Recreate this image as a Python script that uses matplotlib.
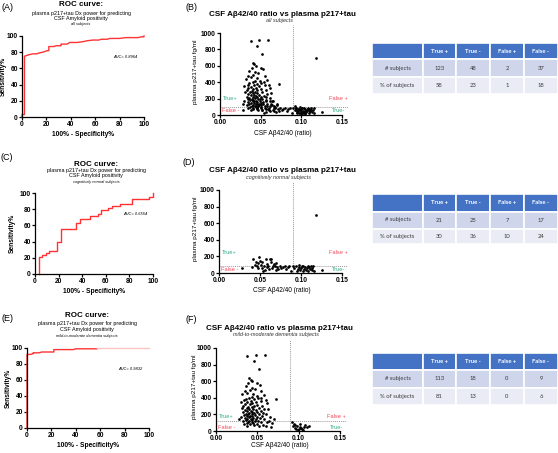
import matplotlib
matplotlib.use('Agg')
import matplotlib.pyplot as plt
from matplotlib.patches import Rectangle

plt.rcParams['font.family'] = ['Liberation Sans', 'DejaVu Sans']

# ---------------- data ----------------
roc_ticks = [0, 20, 40, 60, 80, 100]

A_fpr = [0, 0, 2, 2, 4, 6, 9, 12, 14, 17, 19, 21, 22, 22, 26, 28, 32, 32, 37, 38, 39, 45, 50, 53, 58, 63, 65, 70, 72, 80, 85, 95, 98, 100, 100]
A_tpr = [0, 3, 3, 75, 76, 77, 78, 78, 79, 80, 81, 82, 82, 87, 87, 88, 88, 90, 90, 91, 92, 92, 93, 94, 95, 95, 96, 96, 97, 97, 98, 98, 99, 99, 100]
A_auc = "AUC= 0.8964"

C_fpr = [3, 3, 6, 6, 9, 9, 12, 12, 19, 19, 22, 22, 35, 35, 38, 38, 47, 47, 53, 53, 56, 56, 62, 62, 65, 65, 72, 72, 82, 82, 97, 97, 100, 100]
C_tpr = [0, 21, 21, 23, 23, 26, 26, 29, 29, 40, 40, 55, 55, 63, 63, 68, 68, 71, 71, 74, 74, 79, 79, 81, 81, 84, 84, 87, 87, 92, 92, 95, 95, 100]
C_auc = "AUC= 0.6554"

E_fpr = [0, 0, 3, 5, 5, 10, 12, 22, 22, 38, 40, 57, 57, 100]
E_tpr = [0, 92, 92, 93, 94, 94, 95, 95, 98, 98, 99, 99, 100, 100]
E_fade_from = 57
E_auc = "AUC= 0.9832"

roc_titles = ["ROC curve:", "plasma p217+tau Dx power for predicting", "CSF Amyloid positivity"]
groups = ["all subjects", "cognitively normal subjects", "mild-to-moderate dementia subjects"]
panel_letters = ["(A)", "(B)", "(C)", "(D)", "(E)", "(F)"]

# scatter: cognitively normal (D)
D_x = [0.028, 0.040, 0.042, 0.044, 0.046, 0.048, 0.049, 0.050, 0.051, 0.052, 0.053, 0.055, 0.056, 0.057,
       0.058, 0.059, 0.060, 0.061, 0.062, 0.063, 0.064, 0.065, 0.066, 0.067, 0.068, 0.069, 0.070, 0.071,
       0.072, 0.074, 0.076, 0.078, 0.080, 0.082, 0.084, 0.086, 0.088, 0.054, 0.047, 0.045,
       0.090, 0.092, 0.094, 0.096, 0.097, 0.098, 0.099, 0.100, 0.101, 0.102, 0.103, 0.104, 0.105, 0.106,
       0.107, 0.108, 0.109, 0.110, 0.111, 0.112, 0.113, 0.114, 0.115, 0.116, 0.126, 0.095, 0.118]
D_y = [60, 70, 170, 100, 80, 120, 190, 150, 100, 60, 130, 80, 40, 170,
       110, 70, 90, 50, 170, 130, 170, 60, 90, 110, 80, 40, 120, 70,
       50, 90, 60, 70, 80, 50, 70, 90, 20, 30, 60, 130,
       90, 60, 80, 50, 70, 100, 40, 60, 80, 30, 90, 50, 70, 40,
       60, 80, 30, 70, 50, 90, 40, 60, 80, 30, 40, 30, 700]

# scatter: mild-to-moderate dementia (F)
F_x = [0.038, 0.048, 0.059, 0.046, 0.052, 0.040, 0.042, 0.044, 0.039, 0.050, 0.053, 0.036, 0.043, 0.047,
       0.041, 0.055, 0.038, 0.045, 0.032, 0.058, 0.049, 0.043, 0.040, 0.051, 0.036, 0.046, 0.072, 0.034,
       0.042, 0.055, 0.030, 0.048, 0.038, 0.044, 0.062, 0.035, 0.041, 0.050, 0.033, 0.046, 0.056, 0.039,
       0.043, 0.037, 0.052, 0.031, 0.045, 0.040, 0.058, 0.035, 0.048, 0.042, 0.038, 0.054, 0.044, 0.033,
       0.050, 0.040, 0.046, 0.036, 0.061, 0.043, 0.039, 0.052, 0.034, 0.047, 0.041, 0.056, 0.037, 0.044,
       0.030, 0.049, 0.040, 0.065, 0.035, 0.045, 0.053, 0.038, 0.042, 0.028, 0.048, 0.058, 0.070, 0.036,
       0.044, 0.040, 0.051, 0.033, 0.047, 0.039, 0.043, 0.055, 0.062, 0.037, 0.045, 0.050, 0.041, 0.034,
       0.057, 0.046, 0.060, 0.038, 0.052, 0.066, 0.064, 0.068, 0.057, 0.063, 0.060, 0.054, 0.035,
       0.092, 0.094, 0.096, 0.098, 0.095, 0.100, 0.102, 0.104, 0.106, 0.108, 0.105, 0.112, 0.097, 0.101,
       0.093, 0.099, 0.103, 0.110]
F_y = [905, 920, 910, 845, 745, 640, 620, 600, 575, 575, 560, 540, 520, 510,
       490, 480, 460, 450, 440, 430, 420, 410, 400, 395, 390, 380, 380, 370,
       365, 360, 355, 350, 345, 335, 335, 325, 320, 315, 305, 300, 300, 295,
       285, 280, 280, 275, 270, 265, 260, 255, 250, 245, 240, 235, 230, 225,
       225, 220, 215, 210, 210, 205, 200, 200, 195, 190, 185, 185, 180, 175,
       170, 170, 165, 165, 160, 155, 155, 150, 145, 140, 140, 140, 140, 135,
       130, 125, 125, 120, 115, 112, 110, 108, 105, 100, 95, 90, 85, 80,
       75, 70, 65, 60, 55, 50, 120, 100, 220, 270, 370, 400, 480,
       105, 90, 75, 60, 40, 30, 50, 20, 45, 70, 10, 60, 25, 90,
       55, 15, 35, 45]

# all subjects (B) = both groups
B_x = D_x + F_x
B_y = D_y + F_y

ratio_cut = 0.09
p217_cut = {"B": 100, "D": 85, "F": 115}
scatter_xticks = [0.00, 0.05, 0.10, 0.15]
scatter_yticks = [0, 200, 400, 600, 800, 1000]

table_cols = ["", "True +", "True -", "False +", "False -"]
table_rows = ["# subjects", "% of subjects"]
B_table = [[123, 48, 2, 37], [58, 23, 1, 18]]
D_table = [[21, 25, 7, 17], [30, 36, 10, 24]]
F_table = [[113, 18, 0, 9], [81, 13, 0, 6]]

# ---------------- drawing ----------------
W, H = 558, 453
fig = plt.figure(figsize=(W / 100, H / 100), dpi=100)

RED = '#FF3333'
GREEN = '#2EAA8A'
LRED = '#F0475A'


def px_axes(x0, y0, x1, y1):
    return fig.add_axes([x0 / W, 1 - y1 / H, (x1 - x0) / W, (y1 - y0) / H])


def ftext(x, y, s, **kw):
    kw.setdefault('ha', 'center')
    kw.setdefault('va', 'center')
    fig.text(x / W, 1 - y / H, s, **kw)


def style_axes(ax):
    for sp in ['top', 'right']:
        ax.spines[sp].set_visible(False)
    for sp in ['left', 'bottom']:
        ax.spines[sp].set_linewidth(0.9)
    ax.tick_params(length=2, width=0.9, labelsize=4.8, pad=1)
    for lab in ax.get_xticklabels() + ax.get_yticklabels():
        lab.set_fontweight('bold')


def roc_panel(box, fpr, tpr, auc, group, title_y, cx, ylab_x, xlab_y, fade_from=None):
    ax = px_axes(*box)
    if fade_from is None:
        ax.plot(fpr, tpr, color=RED, lw=1.0, clip_on=False)
    else:
        k = fpr.index(fade_from)
        ax.plot(fpr[:k + 1], tpr[:k + 1], color=RED, lw=1.0, clip_on=False)
        ax.plot(fpr[k:], tpr[k:], color='#FFC4C4', lw=1.0, clip_on=False)
    ax.set_xlim(0, 100)
    ax.set_ylim(0, 100)
    ax.set_xticks(roc_ticks)
    ax.set_yticks(roc_ticks)
    style_axes(ax)
    ax.set_xlabel("100% - Specificity%", fontsize=4.8, fontweight='bold')
    ax.set_ylabel("Sensitivity%", fontsize=4.8, fontweight='bold')
    ax.xaxis.set_label_coords(0.5, xlab_y)
    ax.yaxis.set_label_coords(ylab_x, 0.5)
    ax.xaxis.label.set_va('center')
    ax.yaxis.label.set_va('center')
    ax.text(75, 74, auc, fontsize=2.9, style='italic', ha='left', va='center')
    ftext(cx, title_y[0], roc_titles[0], fontsize=5.8, fontweight='bold')
    ftext(cx, title_y[1], roc_titles[1], fontsize=3.9)
    ftext(cx, title_y[2], roc_titles[2], fontsize=3.9)
    ftext(cx, title_y[3], group, fontsize=2.8, style='italic')
    return ax


def scatter_panel(box, xs, ys, cut, group, title_y, cx, ylab_x, xlab_y, lab_y):
    ax = px_axes(*box)
    ax.scatter(xs, ys, s=3.8, c='black', linewidths=0, clip_on=False, zorder=3)
    ax.set_xlim(0, 0.157)
    ax.set_ylim(0, 1100)
    ax.axvline(ratio_cut, color='#9a9a9a', lw=0.7, ls=(0, (1, 1)))
    ax.axhline(cut, color='#9a9a9a', lw=0.7, ls=(0, (1, 1)))
    ax.spines['left'].set_bounds(0, 1000)
    ax.spines['bottom'].set_bounds(0, 0.15)
    ax.set_xticks(scatter_xticks)
    ax.set_xticklabels([f"{v:.2f}" for v in scatter_xticks])
    ax.set_yticks(scatter_yticks)
    style_axes(ax)
    ax.set_xlabel("CSF Aβ42/40 (ratio)", fontsize=4.7)
    ax.set_ylabel("plasma p217+tau fg/ml", fontsize=4.6)
    ax.xaxis.set_label_coords(0.49, xlab_y)
    ax.yaxis.set_label_coords(ylab_x, 0.48)
    ax.xaxis.label.set_va('center')
    ax.yaxis.label.set_va('center')
    up, dn = lab_y
    ax.text(0.003, up, "True+", color=GREEN, fontsize=4.1, ha='left', va='center')
    ax.text(0.003, dn, "False -", color=LRED, fontsize=4.1, ha='left', va='center')
    ax.text(0.157, up, "False +", color=LRED, fontsize=4.1, ha='right', va='center')
    ax.text(0.154, dn, "True-", color=GREEN, fontsize=4.1, ha='right', va='center')
    ftext(cx, title_y[0], "CSF Aβ42/40 ratio vs plasma p217+tau", fontsize=5.8, fontweight='bold')
    ftext(cx - 3, title_y[1], group, fontsize=3.9, style='italic', color='#333333')
    return ax


def table_panel(y_edges, values):
    x_edges = [372, 423, 456, 490, 524, 558]
    ax = px_axes(x_edges[0], y_edges[0], x_edges[-1], y_edges[-1])
    ax.set_xlim(x_edges[0], x_edges[-1])
    ax.set_ylim(y_edges[-1], y_edges[0])
    ax.axis('off')
    fills = ['#4472C4', '#CFD5EA', '#E9EBF5']
    for r in range(3):
        for c in range(5):
            x0, x1 = x_edges[c], x_edges[c + 1]
            y0, y1 = y_edges[r], y_edges[r + 1]
            ax.add_patch(Rectangle((x0, y0), x1 - x0, y1 - y0, facecolor=fills[r],
                                   edgecolor='white', lw=1.2))
            if r == 0:
                s = table_cols[c]
                color, weight = 'white', 'bold'
            else:
                s = table_rows[r - 1] if c == 0 else str(values[r - 1][c - 1])
                color, weight = '#3a3a3a', 'normal'
            ax.text((x0 + x1) / 2, (y0 + y1) / 2, s, ha='center', va='center',
                    fontsize=4.2, color=color, fontweight=weight, family=['Lato', 'DejaVu Sans'])


# ROC panels
roc_panel((22, 36, 144, 117), A_fpr, A_tpr, A_auc, groups[0], (4.5, 13, 18.5, 24.5), 81, -0.152, -0.216)
roc_panel((35, 193, 153, 274), C_fpr, C_tpr, C_auc, groups[1], (165, 170.5, 176, 182.5), 96, -0.195, -0.216)
roc_panel((27, 348, 149, 428), E_fpr, E_tpr, E_auc, groups[2], (315.5, 323.5, 329, 335.5), 87, -0.156, -0.219,
          fade_from=E_fade_from)

# scatter panels
scatter_panel((220, 24.8, 347.7, 115), B_x, B_y, p217_cut["B"], groups[0], (14, 20.5), 282, -0.192, -0.205, (207, 60))
scatter_panel((219, 181.7, 347.7, 273), D_x, D_y, p217_cut["D"], groups[1], (170.5, 178), 282, -0.183, -0.197, (241, 48))
scatter_panel((216, 339.7, 345.8, 431), F_x, F_y, p217_cut["F"], groups[2], (328, 334.5), 279, -0.166, -0.164, (169, 48))

# tables
table_panel([43, 59.5, 77, 94], B_table)
table_panel([194, 211.5, 228.5, 244], D_table)
table_panel([353, 370, 388, 405], F_table)

# panel letters
letter_pos = [(8, 7), (191, 7.5), (7, 157), (189, 162.5), (8, 318.5), (191, 320)]
for (lx, ly), s in zip(letter_pos, panel_letters):
    ftext(lx, ly, s, fontsize=6.5)

fig.savefig('out.png', dpi=100)
